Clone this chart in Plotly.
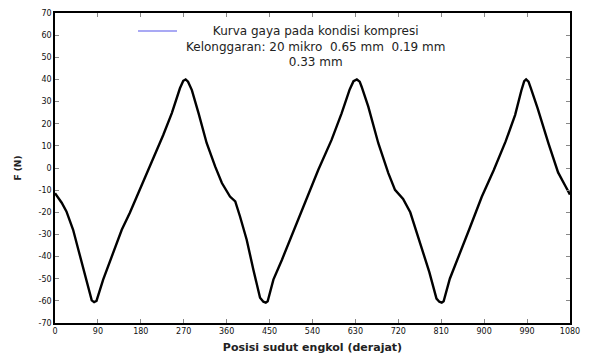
import plotly.graph_objects as go

# crank angle (degrees) and force values
angle = [0, 14, 24, 38, 49, 63, 77, 82, 87, 101, 119, 140, 157, 182, 203, 227, 245, 262,
         269, 274, 279, 287, 301, 318, 336, 350, 367, 378, 388, 402, 416, 430, 437, 442,
         446, 458, 476, 504, 528, 552, 580, 601, 618, 626, 633, 639, 643, 657, 678, 699,
         713, 730, 745, 765, 785, 800, 806, 811, 815, 828, 845, 870, 895, 920, 945, 965,
         978, 984, 988, 993, 998, 1012, 1035, 1055, 1070, 1080]
force = [-11.4, -15.7, -19.6, -27.9, -36.9, -48.9, -59.8, -60.6, -60.0, -50.4, -39.9,
         -27.9, -20.2, -7.6, 2.3, 14.9, 24.8, 36.0, 39.4, 40.0, 39.0, 35.2, 24.8, 11.3,
         0.6, -6.8, -12.9, -15.1, -21.9, -32.4, -45.9, -58.6, -60.4, -60.8, -60.2, -50.4,
         -41.4, -26.4, -12.9, -0.9, 12.7, 24.7, 35.5, 39.2, 40.0, 39.0, 36.7, 27.7, 11.2,
         -2.3, -9.9, -14.0, -20.0, -33.0, -47.0, -59.0, -60.4, -60.8, -60.2, -50.0, -41.0,
         -27.0, -13.0, -1.0, 12.0, 24.0, 35.0, 39.2, 40.0, 39.0, 36.0, 27.0, 11.0, -2.0,
         -8.0, -12.0]

x_ticks = [0, 90, 180, 270, 360, 450, 540, 630, 720, 810, 900, 990, 1080]
y_ticks = [-70, -60, -50, -40, -30, -20, -10, 0, 10, 20, 30, 40, 50, 60, 70]

legend_lines = ["Kurva gaya pada kondisi kompresi",
                "Kelonggaran: 20 mikro&nbsp;&nbsp;0.65 mm&nbsp;&nbsp;0.19 mm",
                "0.33 mm"]

# the page body adds an 8 px offset, so the figure is 8 px smaller than the window
OFF = 8
W, H = 596 - OFF, 354 - OFF
L, R, T, B = 55 - OFF, 596 - 570, 13 - OFF, 354 - 323

fig = go.Figure()
fig.add_trace(go.Scatter(x=angle, y=force, mode="lines",
                         line=dict(color="black", width=2.4),
                         showlegend=False))

axis_common = dict(showgrid=False, zeroline=False, showline=True, linecolor="black",
                   linewidth=1.5, mirror="ticks", ticks="inside", ticklen=4,
                   tickcolor="#888888", automargin=False,
                   tickfont=dict(family="DejaVu Sans", size=8, color="#111111"))

fig.update_xaxes(range=[0, 1080], tickvals=x_ticks, ticktext=[str(v) for v in x_ticks],
                 title=dict(text="<b>Posisi sudut engkol (derajat)</b>",
                            font=dict(family="DejaVu Sans", size=11, color="#222222")),
                 **axis_common)
fig.update_yaxes(range=[-70, 70], tickvals=y_ticks, ticktext=[str(v) for v in y_ticks],
                 title=dict(text="<b>F (N)</b>",
                            font=dict(family="DejaVu Sans", size=9, color="#222222")),
                 **axis_common)

pw, ph = W - L - R, H - T - B
def px(xw):  # window x pixel -> paper fraction
    return (xw - OFF - L) / pw
def py(yw):  # window y pixel -> paper fraction
    return 1 - (yw - OFF - T) / ph

# legend drawn as a line sample plus a centred text block inside the plot top
fig.add_shape(type="line", xref="paper", yref="paper",
              x0=px(138), x1=px(177), y0=py(31), y1=py(31),
              line=dict(color="#8c8cf0", width=1.5))
fig.add_annotation(text="<br>".join(legend_lines), xref="paper", yref="paper",
                   x=px(184), y=py(22), xanchor="left", yanchor="top", align="center",
                   showarrow=False,
                   font=dict(family="DejaVu Sans", size=12, color="#222222"))

fig.update_layout(
    width=W, height=H,
    margin=dict(l=L, r=R, t=T, b=B),
    paper_bgcolor="white", plot_bgcolor="white",
    showlegend=False,
)

fig.write_html("out.html")
